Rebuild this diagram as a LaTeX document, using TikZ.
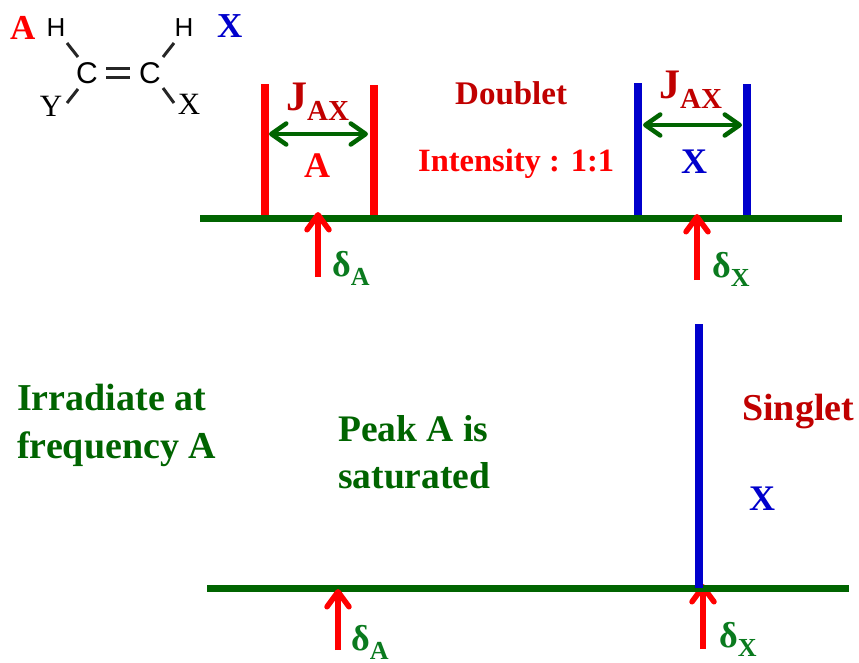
\documentclass[tikz,border=0pt]{standalone}
\usepackage{fontspec}
\setmainfont{Liberation Serif}
\newfontfamily\atomfont{Liberation Sans}
\usetikzlibrary{positioning,arrows.meta,calc}

\definecolor{axisgreen}{HTML}{006400}
\definecolor{labelgreen}{HTML}{0A7A1E}
\definecolor{labelred}{HTML}{C00000}
\definecolor{peakblue}{HTML}{0000CC}

\newcommand{\lowtext}[2]{\raisebox{-.25em}{\fontsize{#1}{#1}\selectfont #2}}

\begin{document}
\begin{tikzpicture}[
    x=1pt,y=-1pt,
    every node/.style={inner sep=0pt},
    bold/.style={font=\bfseries\fontsize{#1}{#1}\selectfont,anchor=base west},
    atomC/.style={font=\atomfont\fontsize{30}{30}\selectfont},
    atomH/.style={font=\atomfont\fontsize{26}{26}\selectfont},
    subatom/.style={font=\fontsize{31}{31}\selectfont},
    bond/.style={line width=3pt,black!85},
    baseline axis/.style={line width=7pt,axisgreen},
    peak/.style={line width=7.6pt},
    coupling/.style={line width=4.5pt,axisgreen,{Straight Barb[length=15pt,width=21pt,round]}-{Straight Barb[length=15pt,width=21pt,round]}},
    shift mark/.style={line width=5.5pt,red,-{Straight Barb[length=15pt,width=22pt,round]}}
]
\useasboundingbox (0,0) rectangle (859,662);

% Molecule
\node[atomC] (cleft) at (87,73) {C};
\node[atomC] (cright) at (150,73) {C};
\node[atomH] (hleft) at (56,28) {H};
\node[atomH] (hright) at (184,28) {H};
\node[subatom] (yleft) at (51,106) {Y};
\node[subatom] (xright) at (189,104) {X};
\draw[bond] ([shift={(11,15)}]hleft.center) -- ([shift={(-9,-16)}]cleft.center);
\draw[bond] ([shift={(-10,15)}]hright.center) -- ([shift={(13,-16)}]cright.center);
\draw[bond] ([shift={(16,-3)}]yleft.center) -- ([shift={(-9,16)}]cleft.center);
\draw[bond] ([shift={(-15,-1)}]xright.center) -- ([shift={(13,15)}]cright.center);
\draw[bond] ([shift={(19,-5)}]cleft.center) -- ([shift={(-20,-5)}]cright.center);
\draw[bond] ([shift={(19,4.5)}]cleft.center) -- ([shift={(-20,4.5)}]cright.center);

\node[bold=35,red] (labelA) at (10,39) {A};
\node[bold=35,peakblue] (labelX) at (217,37) {X};

% Top spectrum
\coordinate (topL) at (200,218);
\coordinate (topR) at (842,218);
\coordinate (pa1) at (265,84);
\coordinate (pa2) at (374,85);
\coordinate (px1) at (638,83);
\coordinate (px2) at (747,84);
\draw[peak,red] (pa1) -- (pa1 |- topL);
\draw[peak,red] (pa2) -- (pa2 |- topL);
\draw[peak,peakblue] (px1) -- (px1 |- topL);
\draw[peak,peakblue] (px2) -- (px2 |- topL);
\draw[baseline axis] (topL) -- (topR);

% Couplings
\coordinate (ja1) at (269,134);
\coordinate (ja2) at (368,134);
\coordinate (jx1) at (643,125);
\coordinate (jx2) at (742,125);
\draw[coupling] (ja1) -- (ja2);
\draw[coupling] (jx1) -- (jx2);
\node[bold=42,labelred] (Jleft) at (286,110) {J\lowtext{29}{AX}};
\node[bold=42,labelred] (Jright) at (659,98) {J\lowtext{29}{AX}};
\node[bold=36,red] (innerA) at (304,177) {A};
\node[bold=36,peakblue] (innerX) at (681,173) {X};
\node[bold=33,labelred] (doublet) at (455,104) {Doublet};
\node[bold=32.5,red] (intensity) at (418,171) {Intensity : 1:1};

% Chemical shifts, top
\coordinate (da0) at (318,277);
\coordinate (da1) at (318,212);
\coordinate (dx0) at (697,280);
\coordinate (dx1) at (697,214);
\draw[shift mark] (da0) -- (da1);
\draw[shift mark] (dx0) -- (dx1);
\node[bold=36,labelgreen] (deltaA) at (332,276) {δ\lowtext{26}{A}};
\node[bold=36,labelgreen] (deltaX) at (712,277) {δ\lowtext{26}{X}};

% Bottom spectrum
\coordinate (botL) at (207,588);
\coordinate (botR) at (849,588);
\coordinate (singlettop) at (699,324);
\coordinate (da2) at (338,650);
\coordinate (da3) at (338,589);
\coordinate (dx2) at (703,649);
\coordinate (dx3) at (703,584);
\draw[shift mark] (dx2) -- (dx3);
\draw[baseline axis] (botL) -- (botR);
\draw[peak,peakblue] (singlettop) -- (singlettop |- botL);
\draw[shift mark] (da2) -- (da3);
\node[bold=36,labelgreen] (deltaAb) at (351,650) {δ\lowtext{26}{A}};
\node[bold=36,labelgreen] (deltaXb) at (719,647) {δ\lowtext{26}{X}};

% Labels
\node[bold=38,axisgreen] (irr1) at (17,410) {Irradiate at};
\node[bold=38,axisgreen] (irr2) at (17,458) {frequency A};
\node[bold=37.5,axisgreen] (peak1) at (338,441) {Peak A is};
\node[bold=37.5,axisgreen] (peak2) at (338,488) {saturated};
\node[bold=38,labelred] (singlet) at (742,420) {Singlet};
\node[bold=36,peakblue] (xlabel) at (749,510) {X};
\end{tikzpicture}
\end{document}
